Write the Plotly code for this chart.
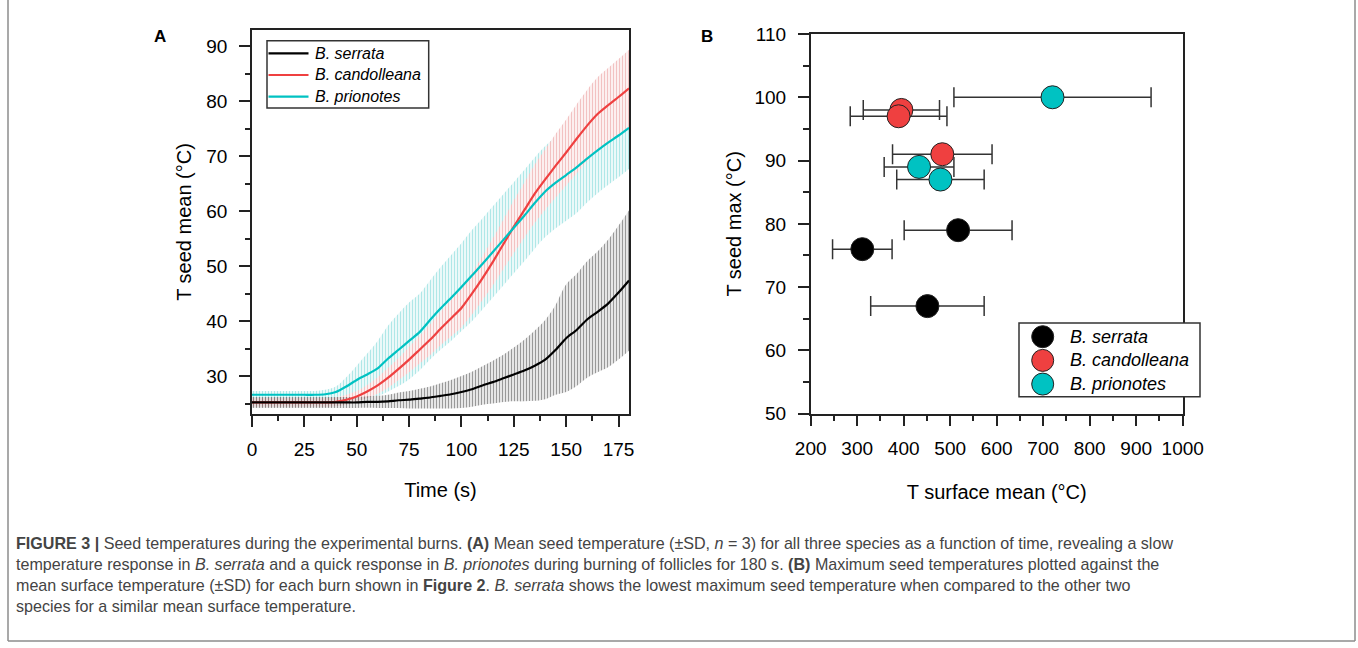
import plotly.graph_objects as go

W, H = 1358, 648

# ---- Panel A: mean seed temperature vs time (values read every 5 s) ----
time_s = [0, 5, 10, 15, 20, 25, 30, 35, 40, 45, 50, 55, 60, 65, 70, 75, 80, 85, 90,
          95, 100, 105, 110, 115, 120, 125, 130, 135, 140, 145, 150, 155, 160, 165,
          170, 175, 180]

serrata_mean = [25.2, 25.2, 25.2, 25.2, 25.2, 25.2, 25.2, 25.2, 25.2, 25.2, 25.2, 25.3,
                25.3, 25.4, 25.6, 25.7, 25.9, 26.1, 26.4, 26.7, 27.1, 27.6, 28.3, 28.9,
                29.6, 30.3, 31.0, 31.9, 33.0, 34.8, 36.9, 38.4, 40.3, 41.7, 43.2, 45.2,
                47.4]
serrata_sd = [1.0, 1.0, 1.0, 1.0, 1.0, 1.0, 1.0, 1.0, 1.0, 1.0, 1.0, 1.05, 1.1, 1.2,
              1.4, 1.6, 1.8, 2.0, 2.3, 2.6, 2.9, 3.2, 3.5, 3.9, 4.3, 4.9, 5.6, 6.4, 7.2,
              8.2, 9.8, 10.2, 10.6, 11.0, 11.6, 12.2, 12.8]

candolleana_mean = [25.2, 25.2, 25.2, 25.2, 25.2, 25.2, 25.2, 25.2, 25.3, 25.7, 26.3,
                    27.2, 28.3, 29.7, 31.3, 33.0, 34.8, 36.6, 38.6, 40.5, 42.4, 45.0,
                    47.8, 50.8, 54.0, 57.2, 60.2, 63.2, 65.8, 68.3, 70.7, 73.2, 75.6,
                    77.7, 79.3, 80.8, 82.4]
candolleana_sd = [0.8, 0.8, 0.8, 0.8, 0.8, 0.8, 0.8, 0.8, 0.8, 0.9, 1.0, 1.2, 1.5, 1.8,
                  2.0, 2.3, 2.5, 2.8, 3.0, 3.3, 3.5, 3.8, 4.0, 4.3, 4.5, 4.8, 5.0, 5.3,
                  5.5, 5.8, 6.0, 6.3, 6.5, 6.7, 6.8, 6.9, 7.0]

prionotes_mean = [26.6, 26.6, 26.6, 26.6, 26.6, 26.6, 26.6, 26.7, 27.1, 28.1, 29.3, 30.3,
                  31.4, 33.2, 34.8, 36.4, 38.0, 40.2, 42.3, 44.2, 46.2, 48.3, 50.4, 52.6,
                  54.8, 57.0, 59.2, 61.5, 63.6, 65.2, 66.6, 68.0, 69.6, 71.1, 72.5, 73.8,
                  75.2]
prionotes_sd = [0.7, 0.7, 0.7, 0.7, 0.7, 0.7, 0.7, 0.8, 1.0, 1.7, 2.6, 3.8, 5.0, 6.0,
                6.6, 7.0, 7.0, 7.2, 7.5, 7.8, 8.0, 8.3, 8.3, 8.3, 8.3, 8.3, 8.3, 8.3,
                8.3, 8.3, 8.3, 8.3, 8.0, 7.8, 7.7, 7.6, 7.5]

# ---- Panel B: max seed temperature vs mean surface temperature, per burn ----
serrata_surf = [311, 517, 451]
serrata_surf_sd = [64, 116, 122]
serrata_max = [76, 79, 67]

candolleana_surf = [395, 389, 483]
candolleana_surf_sd = [82, 104, 107]
candolleana_max = [98, 97, 91]

prionotes_surf = [720, 433, 479]
prionotes_surf_sd = [212, 75, 94]
prionotes_max = [100, 89, 87]

species = ["B. serrata", "B. candolleana", "B. prionotes"]

BLACK = "#000000"
RED = "#EF4040"
TEAL = "#00C2C2"
FONT = "Liberation Sans, Arial, sans-serif"


def px(x):
    return x / W


def py(y):
    return 1 - y / H


fig = go.Figure()

# SD bands as vertically hatched fills (red one opaque so it hides the teal hatch)
bands = [
    (prionotes_mean, prionotes_sd, "#5fcfcf", "rgba(0,0,0,0)"),
    (candolleana_mean, candolleana_sd, "#e58585", "white"),
    (serrata_mean, serrata_sd, "#333333", "rgba(0,0,0,0)"),
]
for mean, sd, fg, bg in bands:
    upper = [m + s for m, s in zip(mean, sd)]
    lower = [m - s for m, s in zip(mean, sd)]
    fig.add_trace(go.Scatter(x=time_s, y=upper, mode="lines", line=dict(width=0),
                             line_shape="spline", hoverinfo="skip", showlegend=False,
                             xaxis="x", yaxis="y"))
    fig.add_trace(go.Scatter(x=time_s, y=lower, mode="lines", line=dict(width=0),
                             line_shape="spline", fill="tonexty", fillcolor=bg,
                             fillpattern=dict(shape="|", fgcolor=fg, bgcolor=bg,
                                              size=3, solidity=0.5),
                             hoverinfo="skip", showlegend=False,
                             xaxis="x", yaxis="y"))

for mean, color in [(candolleana_mean, RED), (prionotes_mean, TEAL),
                    (serrata_mean, BLACK)]:
    fig.add_trace(go.Scatter(x=time_s, y=mean, mode="lines", line_shape="spline",
                             line=dict(color=color, width=2.2, smoothing=0.6),
                             showlegend=False, xaxis="x", yaxis="y"))

scatter_sets = [
    (serrata_surf, serrata_max, serrata_surf_sd, BLACK),
    (candolleana_surf, candolleana_max, candolleana_surf_sd, RED),
    (prionotes_surf, prionotes_max, prionotes_surf_sd, TEAL),
]
for xs, ys, err, color in scatter_sets:
    fig.add_trace(go.Scatter(
        x=xs, y=ys, mode="markers",
        marker=dict(size=23, color=color, line=dict(color="#222222", width=1)),
        error_x=dict(type="data", array=err, visible=True, color="#333333",
                     thickness=1.5, width=10),
        showlegend=False, xaxis="x2", yaxis="y2"))

axis_common = dict(
    showline=True, mirror=True, linecolor="#222222", linewidth=1.5,
    ticks="outside", tickwidth=1.5, tickcolor="#222222", ticklen=11,
    showgrid=False, zeroline=False, automargin=False,
    tickfont=dict(family=FONT, size=19, color="black"),
    title_font=dict(family=FONT, size=20, color="black"),
)
minor = dict(ticks="outside", ticklen=5.5, tickwidth=1.5, tickcolor="#222222",
             showgrid=False)

fig.update_layout(
    width=W, height=H, margin=dict(l=0, r=0, t=0, b=0, pad=0), autosize=False,
    paper_bgcolor="white", plot_bgcolor="white", showlegend=False,
    xaxis=dict(domain=[px(252), px(629)], range=[0, 180], tick0=0, dtick=25,
               minor=dict(dtick=12.5, **minor), anchor="y", ticklabelstandoff=6,
               title=dict(text="Time (s)", standoff=24), **axis_common),
    yaxis=dict(domain=[py(414), py(30)], range=[23.1, 93.0], tick0=0, dtick=10,
               minor=dict(dtick=5, **minor), anchor="x", ticklabelstandoff=8,
               title=dict(text="T seed mean (°C)", standoff=9), **axis_common),
    xaxis2=dict(domain=[px(810.7), px(1182.7)], range=[200, 1000], tick0=0, dtick=100,
                minor=dict(dtick=50, **minor), anchor="y2", ticklabelstandoff=6,
                title=dict(text="T surface mean (°C)", standoff=27), **axis_common),
    yaxis2=dict(domain=[py(413.7), py(34)], range=[50, 110], tick0=0, dtick=10,
                minor=dict(dtick=5, **minor), anchor="x2", ticklabelstandoff=8,
                title=dict(text="T seed max (°C)", standoff=7), **axis_common),
)

shapes = []
annotations = []

# panel letters
for label, x, y in [("A", 160, 36), ("B", 707, 36)]:
    annotations.append(dict(text=f"<b>{label}</b>", x=px(x), y=py(y), xref="paper",
                            yref="paper", showarrow=False, xanchor="center",
                            yanchor="middle",
                            font=dict(family=FONT, size=17, color="black")))

# legend A (lines)
shapes.append(dict(type="rect", xref="paper", yref="paper", x0=px(267), x1=px(428.7),
                   y0=py(108), y1=py(40.7), line=dict(color="#333333", width=1.5),
                   fillcolor="white", layer="above"))
for i, (name, color) in enumerate(zip(species, [BLACK, RED, TEAL])):
    yy = 53.3 + i * 21.7
    shapes.append(dict(type="line", xref="paper", yref="paper", x0=px(268.5),
                       x1=px(308.5), y0=py(yy), y1=py(yy),
                       line=dict(color=color, width=2.2), layer="above"))
    annotations.append(dict(text=f"<i>{name}</i>", x=px(313), y=py(yy), xref="paper",
                            yref="paper", showarrow=False, xanchor="left",
                            yanchor="middle",
                            font=dict(family=FONT, size=16, color="black")))

# legend B (markers)
shapes.append(dict(type="rect", xref="paper", yref="paper", x0=px(1019), x1=px(1200),
                   y0=py(396.7), y1=py(323), line=dict(color="#333333", width=1.5),
                   fillcolor="white", layer="above"))
for i, (name, color) in enumerate(zip(species, [BLACK, RED, TEAL])):
    yy = 336.7 + i * 23.7
    shapes.append(dict(type="circle", xref="paper", yref="paper",
                       xsizemode="pixel", ysizemode="pixel",
                       xanchor=px(1042.7), yanchor=py(yy),
                       x0=-11, x1=11, y0=-11, y1=11, fillcolor=color,
                       line=dict(color="#222222", width=1), layer="above"))
    annotations.append(dict(text=f"<i>{name}</i>", x=px(1068), y=py(yy), xref="paper",
                            yref="paper", showarrow=False, xanchor="left",
                            yanchor="middle",
                            font=dict(family=FONT, size=18, color="black")))

# caption frame
for x0, y0, x1, y1 in [(8, 0, 8, 641), (1355, 0, 1355, 641), (8, 641, 1355, 641)]:
    shapes.append(dict(type="line", xref="paper", yref="paper", x0=px(x0), x1=px(x1),
                       y0=py(y0), y1=py(y1), line=dict(color="#8c8c8c", width=1.5)))

caption = [
    "<b>FIGURE 3 |</b> Seed temperatures during the experimental burns. <b>(A)</b> "
    "Mean seed temperature (±SD, <i>n</i> = 3) for all three species as a function of "
    "time, revealing a slow",
    "temperature response in <i>B. serrata</i> and a quick response in "
    "<i>B. prionotes</i> during burning of follicles for 180 s. <b>(B)</b> Maximum "
    "seed temperatures plotted against the",
    "mean surface temperature (±SD) for each burn shown in <b>Figure 2</b>. "
    "<i>B. serrata</i> shows the lowest maximum seed temperature when compared to "
    "the other two",
    "species for a similar mean surface temperature.",
]
for i, line in enumerate(caption):
    annotations.append(dict(text=line, x=px(14), y=py(543 + i * 21), xref="paper",
                            yref="paper", showarrow=False, xanchor="left",
                            yanchor="middle", align="left",
                            font=dict(family=FONT, size=16.1, color="#444444")))

fig.update_layout(shapes=shapes, annotations=annotations)
fig.write_html(
    "out.html",
    config={"displayModeBar": False},
    post_script="document.body.style.margin='0';"
                "document.documentElement.style.overflow='hidden';",
)
